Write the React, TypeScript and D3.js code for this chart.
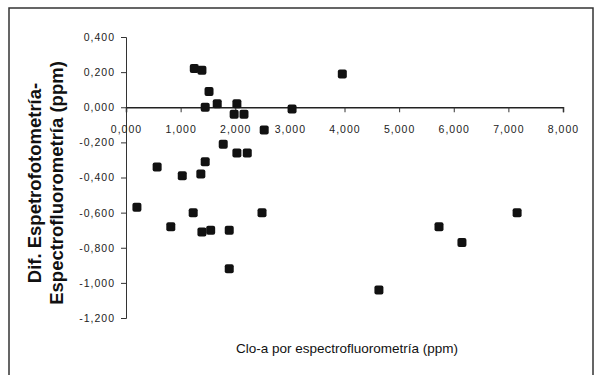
import React, { useEffect, useRef } from "react";
import * as d3 from "d3";

// fluorometry reading (ppm) and the difference between methods (ppm)
const cloA = [
  0.2, 0.57, 0.82, 1.03, 1.23, 1.25, 1.39, 1.45, 1.52, 1.67, 1.45, 1.37, 1.78, 2.03,
  1.98, 2.16, 2.03, 2.22, 2.53, 3.04, 3.96, 1.39, 1.55, 1.89, 1.89, 2.49, 4.63, 5.73,
  6.15, 7.16,
];
const dif = [
  -0.57, -0.34, -0.68, -0.39, -0.6, 0.22, 0.21, 0.0, 0.09, 0.02, -0.31, -0.38, -0.21,
  0.02, -0.04, -0.04, -0.26, -0.26, -0.13, -0.01, 0.19, -0.71, -0.7, -0.7, -0.92, -0.6,
  -1.04, -0.68, -0.77, -0.6,
];
const xTicks = [0, 1, 2, 3, 4, 5, 6, 7, 8];
const yTicks = [0.4, 0.2, 0, -0.2, -0.4, -0.6, -0.8, -1.0, -1.2];
const yTitle = ["Dif. Espetrofotometría-", "Espectrofluorometría (ppm)"];
const xTitle = "Clo-a por espectrofluorometría (ppm)";

const fmt = (v: number) => {
  const s = d3.format(".3f")(Math.abs(v)).replace(".", ",");
  return (v < 0 ? "-" : "") + s;
};

const App = () => {
  const svgRef = useRef<SVGSVGElement>(null);

  useEffect(() => {
    const w = 596;
    const h = 375;
    const svg = d3.select(svgRef.current).attr("width", w).attr("height", h);
    svg.selectAll("*").remove();

    const x = d3.scaleLinear().domain([0, 8]).range([126, 563]);
    const y = d3.scaleLinear().domain([-1.2, 0.4]).range([318, 37]);

    // outer frame
    svg.append("rect")
      .attr("x", 9).attr("y", 8).attr("width", 584).attr("height", 380)
      .attr("fill", "white").attr("stroke", "#333").attr("stroke-width", 1.5);

    // y axis
    const yAxis = svg.append("g").attr("transform", `translate(${x(0)},0)`)
      .call(d3.axisLeft(y).tickValues(yTicks).tickSize(5).tickFormat(d => fmt(+d)));
    yAxis.select(".domain").attr("stroke", "#333");
    yAxis.selectAll("line").attr("stroke", "#333");
    yAxis.selectAll("text")
      .attr("x", -11)
      .style("font-family", "Arial, 'Liberation Sans', sans-serif")
      .style("font-size", "10.5px")
      .style("letter-spacing", "1px")
      .attr("fill", "#222");

    // x axis at y = 0
    const xAxis = svg.append("g").attr("transform", `translate(0,${y(0)})`)
      .call(d3.axisBottom(x).tickValues(xTicks).tickSize(5).tickSizeOuter(5).tickFormat(d => fmt(+d)));
    xAxis.select(".domain").attr("stroke", "#222").attr("stroke-width", 1.5);
    xAxis.selectAll("line").attr("stroke", "#333");
    xAxis.selectAll("text")
      .attr("y", 18)
      .style("font-family", "Arial, 'Liberation Sans', sans-serif")
      .style("font-size", "10.5px")
      .style("letter-spacing", "1px")
      .attr("fill", "#222");

    // points
    svg.append("g").selectAll("rect")
      .data(cloA.map((v, i) => [v, dif[i]]))
      .join("rect")
      .attr("x", d => x(d[0]) - 4.5)
      .attr("y", d => y(d[1]) - 4.5)
      .attr("width", 9).attr("height", 9)
      .attr("rx", 2)
      .attr("fill", "#111");

    // titles
    svg.append("g").attr("transform", "translate(0,183) rotate(-90)")
      .selectAll("text").data(yTitle).join("text")
      .attr("x", 0).attr("y", (d, i) => 41 + i * 22)
      .attr("text-anchor", "middle")
      .style("font-family", "Arial, 'Liberation Sans', sans-serif")
      .style("font-size", "18.5px")
      .style("font-weight", "bold")
      .attr("fill", "#111")
      .text(d => d);

    svg.append("text")
      .attr("x", 347).attr("y", 353)
      .attr("text-anchor", "middle")
      .style("font-family", "Arial, 'Liberation Sans', sans-serif")
      .style("font-size", "13.5px")
      .attr("fill", "#111")
      .text(xTitle);
  }, []);

  return (
    <div style={{ position: "absolute", left: 0, top: 0 }}>
      <svg ref={svgRef} style={{ display: "block" }}></svg>
    </div>
  );
};

export default App;
